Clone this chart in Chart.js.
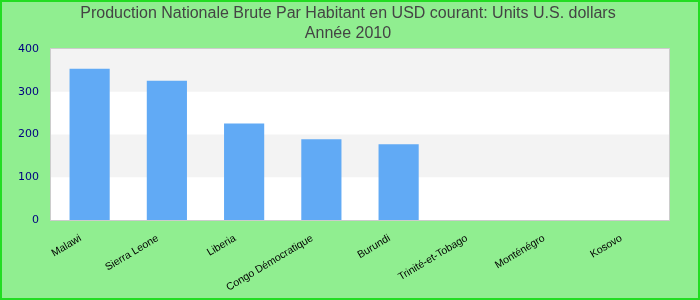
<!DOCTYPE html>
<html><head><meta charset="utf-8">
<script src="https://cdn.jsdelivr.net/npm/chart.js@4/dist/chart.umd.min.js"></script>
<style>html,body{margin:0;padding:0;background:#90ee90}#wrap{width:700px;height:300px;position:relative}</style>
</head><body><div id="wrap"><canvas id="c" width="700" height="300"></canvas></div>
<script>
const categories = ["Malawi","Sierra Leone","Liberia","Congo Démocratique","Burundi","Trinité-et-Tobago","Monténégro","Kosovo"];
const values = [354, 326, 226, 189, 177, null, null, null];
const yTicks = [0,100,200,300,400];
const titleLines = ["Production Nationale Brute Par Habitant en USD courant: Units U.S. dollars","Année 2010"];

const bgPlugin = {
  id:'bg',
  beforeDraw(chart){
    if (chart.titleBlock){ chart.titleBlock.left = 0; chart.titleBlock.right = 696; chart.titleBlock.width = 696; }
    const ctx = chart.ctx, a = chart.chartArea, y = chart.scales.y;
    ctx.save();
    ctx.fillStyle = '#90ee90';
    ctx.fillRect(0,0,chart.width,chart.height);
    ctx.fillStyle = '#ffffff';
    ctx.fillRect(a.left,a.top,a.right-a.left,a.bottom-a.top);
    for (let i=0;i<yTicks.length-1;i++){
      if (i%2===1){
        const t = y.getPixelForValue(yTicks[i+1]), b = y.getPixelForValue(yTicks[i]);
        ctx.fillStyle = '#f3f3f3';
        ctx.fillRect(a.left,t,a.right-a.left,b-t);
      }
    }
    ctx.strokeStyle = '#cccccc'; ctx.lineWidth = 1;
    ctx.strokeRect(a.left-0.5,a.top-0.5,a.right-a.left+1,a.bottom-a.top+1);
    ctx.strokeStyle = '#22dd22'; ctx.lineWidth = 2;
    ctx.strokeRect(1,1,chart.width-2,chart.height-2);
    ctx.restore();
  }
};

new Chart(document.getElementById('c'), {
  type:'bar',
  data:{labels:categories, datasets:[{data:values, backgroundColor:'#61aaf5', barPercentage:0.52, categoryPercentage:1}]},
  options:{
    responsive:false, animation:false,
    layout:{padding:{left:8,right:31,top:0,bottom:0}},
    plugins:{
      legend:{display:false}, tooltip:{enabled:false},
      title:{display:true, text:titleLines, color:'#444444', font:{family:'Liberation Sans, Arial', size:16, weight:'normal', lineHeight:1.25}, padding:{top:4,bottom:5}}
    },
    scales:{
      x:{grid:{display:false, drawTicks:false}, border:{display:false},
         afterFit(s){ s.height = 80; },
         ticks:{color:'#000000', font:{family:'Liberation Sans, Arial', size:10.5}, maxRotation:31, minRotation:31, padding:12, labelOffset:-9}},
      y:{min:0,max:400, grid:{display:false, drawTicks:false}, border:{display:false},
         afterBuildTicks(s){ s.ticks = yTicks.map(v=>({value:v})); },
         afterFit(s){ s.width = 43; },
         ticks:{color:'#000080', font:{family:'DejaVu Sans', size:11}, padding:12}}
    }
  },
  plugins:[bgPlugin]
});
</script></body></html>
